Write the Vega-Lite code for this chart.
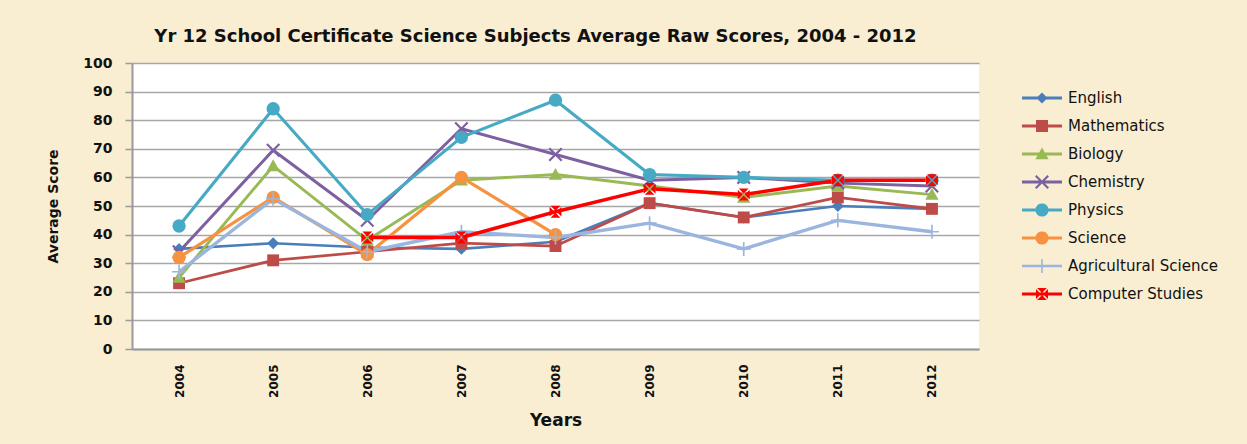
{
  "$schema": "https://vega.github.io/schema/vega-lite/v6.json",
  "width": 847,
  "height": 286,
  "autosize": "none",
  "padding": {"left": 132, "top": 63, "right": 268, "bottom": 95},
  "background": "#f9edd2",
  "title": {
    "text": "Yr 12 School Certificate Science Subjects Average Raw Scores, 2004 - 2012",
    "font": "DejaVu Sans",
    "fontSize": 18,
    "fontWeight": "bold",
    "color": "#111111",
    "anchor": "middle",
    "frame": "group",
    "dx": -20,
    "dy": 24,
    "baseline": "alphabetic",
    "offset": 20
  },
  "data": {
    "values": [
      {"year": "2004", "subject": "English", "score": 35},
      {"year": "2005", "subject": "English", "score": 37},
      {"year": "2006", "subject": "English", "score": 35.5},
      {"year": "2007", "subject": "English", "score": 35},
      {"year": "2008", "subject": "English", "score": 37.5},
      {"year": "2009", "subject": "English", "score": 51},
      {"year": "2010", "subject": "English", "score": 46},
      {"year": "2011", "subject": "English", "score": 50},
      {"year": "2012", "subject": "English", "score": 49},
      {"year": "2004", "subject": "Mathematics", "score": 23},
      {"year": "2005", "subject": "Mathematics", "score": 31},
      {"year": "2006", "subject": "Mathematics", "score": 34},
      {"year": "2007", "subject": "Mathematics", "score": 37},
      {"year": "2008", "subject": "Mathematics", "score": 36},
      {"year": "2009", "subject": "Mathematics", "score": 51},
      {"year": "2010", "subject": "Mathematics", "score": 46},
      {"year": "2011", "subject": "Mathematics", "score": 53},
      {"year": "2012", "subject": "Mathematics", "score": 49},
      {"year": "2004", "subject": "Biology", "score": 25},
      {"year": "2005", "subject": "Biology", "score": 64},
      {"year": "2006", "subject": "Biology", "score": 38},
      {"year": "2007", "subject": "Biology", "score": 59},
      {"year": "2008", "subject": "Biology", "score": 61},
      {"year": "2009", "subject": "Biology", "score": 57},
      {"year": "2010", "subject": "Biology", "score": 53},
      {"year": "2011", "subject": "Biology", "score": 57},
      {"year": "2012", "subject": "Biology", "score": 54},
      {"year": "2004", "subject": "Chemistry", "score": 34},
      {"year": "2005", "subject": "Chemistry", "score": 69.5},
      {"year": "2006", "subject": "Chemistry", "score": 45},
      {"year": "2007", "subject": "Chemistry", "score": 77},
      {"year": "2008", "subject": "Chemistry", "score": 68},
      {"year": "2009", "subject": "Chemistry", "score": 59},
      {"year": "2010", "subject": "Chemistry", "score": 60},
      {"year": "2011", "subject": "Chemistry", "score": 58},
      {"year": "2012", "subject": "Chemistry", "score": 57},
      {"year": "2004", "subject": "Physics", "score": 43},
      {"year": "2005", "subject": "Physics", "score": 84},
      {"year": "2006", "subject": "Physics", "score": 47},
      {"year": "2007", "subject": "Physics", "score": 74},
      {"year": "2008", "subject": "Physics", "score": 87},
      {"year": "2009", "subject": "Physics", "score": 61},
      {"year": "2010", "subject": "Physics", "score": 60},
      {"year": "2011", "subject": "Physics", "score": 59},
      {"year": "2012", "subject": "Physics", "score": 59},
      {"year": "2004", "subject": "Science", "score": 32},
      {"year": "2005", "subject": "Science", "score": 53},
      {"year": "2006", "subject": "Science", "score": 33},
      {"year": "2007", "subject": "Science", "score": 60},
      {"year": "2008", "subject": "Science", "score": 40},
      {"year": "2004", "subject": "Agricultural Science", "score": 27},
      {"year": "2005", "subject": "Agricultural Science", "score": 52.5},
      {"year": "2006", "subject": "Agricultural Science", "score": 34},
      {"year": "2007", "subject": "Agricultural Science", "score": 41},
      {"year": "2008", "subject": "Agricultural Science", "score": 39},
      {"year": "2009", "subject": "Agricultural Science", "score": 44},
      {"year": "2010", "subject": "Agricultural Science", "score": 35},
      {"year": "2011", "subject": "Agricultural Science", "score": 45},
      {"year": "2012", "subject": "Agricultural Science", "score": 41},
      {"year": "2006", "subject": "Computer Studies", "score": 39},
      {"year": "2007", "subject": "Computer Studies", "score": 39},
      {"year": "2008", "subject": "Computer Studies", "score": 48},
      {"year": "2009", "subject": "Computer Studies", "score": 56},
      {"year": "2010", "subject": "Computer Studies", "score": 54},
      {"year": "2011", "subject": "Computer Studies", "score": 59},
      {"year": "2012", "subject": "Computer Studies", "score": 59}
    ]
  },
  "encoding": {
    "x": {
      "field": "year",
      "type": "ordinal",
      "scale": {"type": "point", "padding": 0.5},
      "axis": {
        "title": "Years",
        "labelAngle": 270,
        "labelFont": "DejaVu Sans",
        "labelFontSize": 12,
        "labelFontWeight": "bold",
        "labelColor": "#111111",
        "labelPadding": 15,
        "ticks": false,
        "grid": false,
        "domainColor": "#9a9a9a",
        "domainWidth": 2,
        "titleFont": "DejaVu Sans",
        "titleFontSize": 17,
        "titleFontWeight": "bold",
        "titleColor": "#111111",
        "titlePadding": 15
      }
    },
    "y": {
      "field": "score",
      "type": "quantitative",
      "scale": {"domain": [0, 100], "nice": false},
      "axis": {
        "title": "Average Score",
        "values": [0, 10, 20, 30, 40, 50, 60, 70, 80, 90, 100],
        "labelFont": "DejaVu Sans",
        "labelFontSize": 14,
        "labelFontWeight": "bold",
        "labelColor": "#111111",
        "labelPadding": 13,
        "tickSize": 7,
        "tickColor": "#9a9a9a",
        "tickWidth": 1.5,
        "gridColor": "#a6a6a6",
        "gridWidth": 1.5,
        "domainColor": "#9a9a9a",
        "domainWidth": 2,
        "titleFont": "DejaVu Sans",
        "titleFontSize": 14,
        "titleFontWeight": "bold",
        "titleColor": "#111111",
        "titlePadding": 22
      }
    }
  },
  "layer": [
    {
      "mark": {"type": "line", "strokeJoin": "round"},
      "encoding": {
        "stroke": {"field": "subject", "type": "nominal", "legend": null,
          "scale": {"domain": ["Computer Studies", "Agricultural Science", "Science", "Physics", "Chemistry", "Biology", "Mathematics", "English"],
                    "range": ["#ff0000", "#9bb6de", "#f69240", "#46aac5", "#7d60a0", "#98b954", "#be4b48", "#4a7ebb"]}},
        "strokeWidth": {"field": "subject", "type": "nominal", "legend": null,
          "scale": {"domain": ["Computer Studies", "Agricultural Science", "Science", "Physics", "Chemistry", "Biology", "Mathematics", "English"],
                    "range": [3.5, 2.6, 3.2, 3.5, 3.2, 3.2, 3.2, 3.2]}}
      }
    },
    {
      "transform": [{"filter": "datum.subject === 'English'"}],
      "mark": {"type": "point", "filled": true, "opacity": 1, "size": 196, "shape": "M0,-0.85L0.85,0L0,0.85L-0.85,0Z"},
      "encoding": {"fill": {"field": "subject", "type": "nominal", "legend": null,
        "scale": {"domain": ["Computer Studies", "Agricultural Science", "Science", "Physics", "Chemistry", "Biology", "Mathematics", "English"],
                  "range": ["#ff0000", "#9bb6de", "#f69240", "#46aac5", "#7d60a0", "#98b954", "#be4b48", "#4a7ebb"]}}}
    },
    {
      "transform": [{"filter": "datum.subject === 'Mathematics'"}],
      "mark": {"type": "point", "filled": true, "opacity": 1, "size": 196, "shape": "M-0.85,-0.85H0.85V0.85H-0.85Z"},
      "encoding": {"fill": {"field": "subject", "type": "nominal", "legend": null}}
    },
    {
      "transform": [{"filter": "datum.subject === 'Biology'"}],
      "mark": {"type": "point", "filled": true, "opacity": 1, "size": 196, "shape": "M0,-0.95L0.95,0.75L-0.95,0.75Z"},
      "encoding": {"fill": {"field": "subject", "type": "nominal", "legend": null}}
    },
    {
      "transform": [{"filter": "datum.subject === 'Chemistry'"}],
      "mark": {"type": "point", "filled": true, "opacity": 1, "size": 196, "shape": "M0,-0.22L0.78,-1L1,-0.78L0.22,0L1,0.78L0.78,1L0,0.22L-0.78,1L-1,0.78L-0.22,0L-1,-0.78L-0.78,-1Z"},
      "encoding": {"fill": {"field": "subject", "type": "nominal", "legend": null}}
    },
    {
      "transform": [{"filter": "datum.subject === 'Physics' || datum.subject === 'Science'"}],
      "mark": {"type": "point", "filled": true, "opacity": 1, "size": 196, "shape": "M0.95,0L0.878,0.364L0.672,0.672L0.364,0.878L0,0.95L-0.364,0.878L-0.672,0.672L-0.878,0.364L-0.95,0L-0.878,-0.364L-0.672,-0.672L-0.364,-0.878L0,-0.95L0.364,-0.878L0.672,-0.672L0.878,-0.364Z"},
      "encoding": {"fill": {"field": "subject", "type": "nominal", "legend": null}}
    },
    {
      "transform": [{"filter": "datum.subject === 'Agricultural Science'"}],
      "mark": {"type": "point", "filled": true, "opacity": 1, "size": 196, "shape": "M-0.12,-1H0.12V-0.12H1V0.12H0.12V1H-0.12V0.12H-1V-0.12H-0.12Z"},
      "encoding": {"fill": {"field": "subject", "type": "nominal", "legend": null}}
    },
    {
      "transform": [{"filter": "datum.subject === 'Computer Studies'"}],
      "mark": {"type": "point", "filled": true, "opacity": 1, "size": 196, "shape": "M-0.7,-0.85L0.7,-0.85L0,-0.15Z M0.85,-0.7L0.85,0.7L0.15,0Z M0.7,0.85L-0.7,0.85L0,0.15Z M-0.85,0.7L-0.85,-0.7L-0.15,0Z"},
      "encoding": {"fill": {"field": "subject", "type": "nominal", "legend": null}}
    },
    {
      "mark": {"type": "point", "filled": true, "opacity": 0, "size": 1600},
      "encoding": {
        "color": {"field": "subject", "type": "nominal",
          "legend": {"title": null, "orient": "none", "legendX": 890, "legendY": 21},
          "scale": {"domain": ["English", "Mathematics", "Biology", "Chemistry", "Physics", "Science", "Agricultural Science", "Computer Studies"],
                    "range": ["#4a7ebb", "#be4b48", "#98b954", "#7d60a0", "#46aac5", "#f69240", "#9bb6de", "#ff0000"]}},
        "shape": {"field": "subject", "type": "nominal",
          "legend": {"title": null, "orient": "none", "legendX": 890, "legendY": 21},
          "scale": {"domain": ["English", "Mathematics", "Biology", "Chemistry", "Physics", "Science", "Agricultural Science", "Computer Studies"],
            "range": [
              "M-1,-0.07H1V0.07H-1Z M0,-0.28L0.28,0L0,0.28L-0.28,0Z",
              "M-1,-0.07H1V0.07H-1Z M-0.3,-0.3H0.3V0.3H-0.3Z",
              "M-1,-0.07H1V0.07H-1Z M0,-0.33L0.33,0.26L-0.33,0.26Z",
              "M-1,-0.07H1V0.07H-1Z M0,-0.077L0.273,-0.35L0.35,-0.273L0.077,0L0.35,0.273L0.273,0.35L0,0.077L-0.273,0.35L-0.35,0.273L-0.077,0L-0.35,-0.273L-0.273,-0.35Z",
              "M-1,-0.07H1V0.07H-1Z M0.33,0L0.307,0.127L0.235,0.235L0.127,0.307L0,0.33L-0.127,0.307L-0.235,0.235L-0.307,0.127L-0.33,0L-0.307,-0.127L-0.235,-0.235L-0.127,-0.307L0,-0.33L0.127,-0.307L0.235,-0.235L0.307,-0.127Z",
              "M-1,-0.07H1V0.07H-1Z M0.33,0L0.307,0.127L0.235,0.235L0.127,0.307L0,0.33L-0.127,0.307L-0.235,0.235L-0.307,0.127L-0.33,0L-0.307,-0.127L-0.235,-0.235L-0.127,-0.307L0,-0.33L0.127,-0.307L0.235,-0.235L0.307,-0.127Z",
              "M-1,-0.06H1V0.06H-1Z M-0.04,-0.35H0.04V-0.04H0.35V0.04H0.04V0.35H-0.04V0.04H-0.35V-0.04H-0.04Z",
              "M-1,-0.07H1V0.07H-1Z M-0.245,-0.3L0.245,-0.3L0,-0.05Z M0.3,-0.245L0.3,0.245L0.05,0Z M0.245,0.3L-0.245,0.3L0,0.05Z M-0.3,0.245L-0.3,-0.245L-0.05,0Z"
            ]}}
      }
    }
  ],
  "config": {
    "view": {"fill": "#ffffff", "stroke": null},
    "legend": {
      "padding": 0,
      "symbolSize": 1600,
      "symbolOpacity": 1,
      "symbolStrokeWidth": 0,
      "clipHeight": 28,
      "rowPadding": 0,
      "labelOffset": 6,
      "labelFont": "DejaVu Sans",
      "labelFontSize": 15,
      "labelColor": "#111111",
      "labelLimit": 300
    }
  }
}
